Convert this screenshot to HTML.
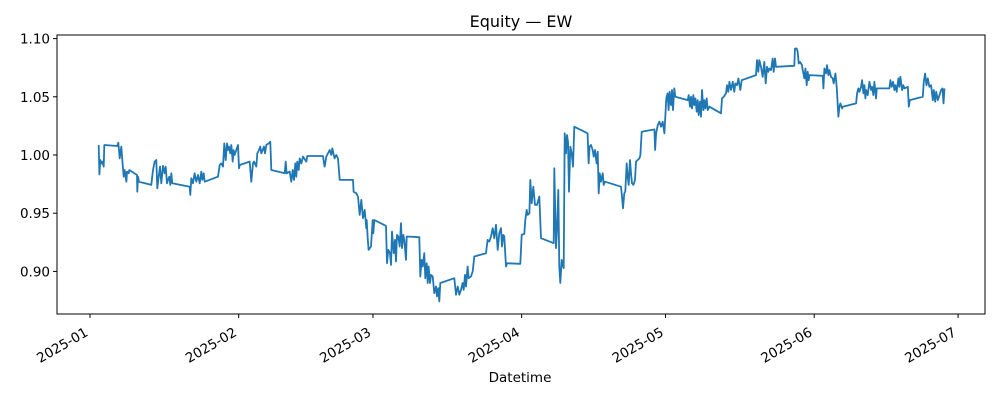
<!DOCTYPE html>
<html><head><meta charset="utf-8"><style>
body{margin:0;background:#fff;font-family:"DejaVu Sans","Liberation Sans",sans-serif;}
svg text{font-family:"DejaVu Sans","Liberation Sans",sans-serif;fill:#000;}
</style></head><body>
<svg id="chart" width="1000" height="400">
<text x="521" y="27" font-size="16" text-anchor="middle">Equity — EW</text>
<g id="plot"></g>
<rect x="57" y="35" width="928" height="279" fill="none" stroke="#000" stroke-width="1"/>
<text x="520" y="382" font-size="13.5" text-anchor="middle">Datetime</text>
</svg>
<script>
const days = [
1.81,1.95,2.15,2.36,2.57,2.85,2.99,5.70,5.91,6.05,6.19,6.53,6.74,7.02,7.23,7.58,7.71,8.06,8.20,9.80,9.87,10.01,10.22,12.79,13.14,13.48,13.83,14.04,14.32,14.60,14.87,15.22,15.57,15.78,16.05,16.26,16.54,16.75,16.96,17.17,
20.78,20.92,21.13,21.48,21.82,22.17,22.52,22.87,23.21,23.42,23.70,23.91,26.69,27.04,27.38,27.73,28.01,28.29,28.56,28.77,28.98,29.26,29.47,29.75,29.95,30.16,30.86,31.07,31.21,33.29,
33.64,33.99,34.19,34.68,34.89,35.24,35.51,35.72,36.0,36.28,36.49,36.77,37.25,37.6,37.81,40.59,40.8,41.0,41.63,41.98,42.26,42.53,42.81,43.02,43.23,43.51,43.72,44.06,44.41,45.11,
45.31,48.58,48.79,48.93,49.28,49.97,50.32,50.53,51.01,51.36,51.71,52.06,54.84,54.97,55.53,55.88,56.23,56.57,56.92,57.27,57.62,
57.69,57.9,58.1,58.59,58.94,59.08,59.28,61.72,61.93,62.2,62.55,62.76,62.97,63.32,63.6,63.8,64.01,64.29,64.57,64.85,65.05,65.33,65.54,65.89,66.03,
68.67,68.87,69.15,69.36,69.71,69.92,70.2,70.41,70.61,70.89,71.1,71.45,71.79,72.14,72.35,72.63,72.84,73.04,75.96,76.31,76.66,77.0,77.35,77.7,77.91,78.19,78.39,78.74,78.95,79.44,79.79,80.13,
82.57,82.91,83.26,83.61,83.96,84.3,84.65,85.0,85.35,85.7,85.9,86.18,86.39,86.74,86.95,89.73,90.01,90.56,90.77,91.05,91.26,91.61,91.81,92.09,92.44,92.79,93.21,93.69,94.04,
96.68,96.82,97.17,97.38,97.65,97.86,98.07,98.35,98.56,98.76,98.97,99.25,99.46,99.67,99.88,100.15,100.43,100.71,100.98,
103.76,103.97,104.18,104.46,104.81,105.02,105.29,105.64,105.85,106.06,106.27,106.55,106.9,107.11,107.38,
110.72,110.93,111.14,111.41,111.62,111.9,112.11,112.32,112.6,112.81,113.02,113.3,113.64,113.85,114.2,114.55,114.76,115.04,117.68,117.82,118.03,118.38,118.73,119.08,119.42,119.77,
120.17,120.44,120.65,120.86,121.14,121.35,121.56,121.83,122.04,124.62,124.83,125.1,125.31,125.52,125.8,126.01,126.22,126.5,126.7,126.91,127.19,127.4,127.61,127.89,128.1,128.31,128.58,128.79,129.14,
131.57,131.78,132.13,132.61,132.82,133.1,133.31,133.66,134.0,134.35,134.56,134.91,135.19,135.6,135.88,
138.87,139.07,139.35,139.56,139.91,140.26,140.6,140.88,141.16,141.44,141.65,142.0,142.34,142.55,142.83,143.04,
146.86,147.0,147.35,147.56,147.77,148.05,148.46,148.6,148.95,149.16,149.44,149.64,149.85,149.99,
152.77,152.91,153.12,153.47,153.68,153.96,154.17,154.51,154.86,155.07,155.42,155.69,156.04,156.25,156.46,156.81,156.95,
159.73,159.94,160.22,160.43,160.77,160.98,161.26,161.47,161.68,161.82,162.16,162.51,162.86,163.07,163.35,163.55,163.9,164.04,
166.68,166.89,167.17,167.45,167.72,167.93,168.21,168.56,168.77,168.98,169.33,169.6,169.81,170.51,170.72,170.93,
173.64,173.85,174.13,174.41,174.69,175.03,175.38,175.73,175.94,176.22,176.43,176.77,177.12,177.47,177.75,177.96,178.16];
const values = [
1.0086,0.9834,0.9957,0.9928,0.9943,0.990,1.0086,1.0077,1.0106,1.0043,0.9971,1.0072,0.9957,0.9814,0.9871,0.9771,0.9857,0.9843,0.9871,0.9828,0.9685,0.9814,0.9771,0.9743,0.9871,0.9943,0.9957,0.9714,0.9814,0.990,0.9757,0.9906,0.9843,0.990,0.9757,0.9786,0.9814,0.9743,0.9843,0.9757,
0.9728,0.9657,0.980,0.9757,0.9843,0.9771,0.9828,0.9757,0.9857,0.9786,0.9843,0.9771,0.9814,0.9914,0.9928,0.990,1.010,0.9957,1.010,1.0043,1.0072,1.0014,1.0086,0.9943,1.0043,1.000,1.0086,0.9886,0.9914,0.9943,
0.9771,0.9928,0.9943,0.990,1.0014,1.0043,1.0072,1.0014,1.0043,1.0072,1.0014,1.0086,1.010,1.0114,0.9871,0.9843,0.9943,0.9843,0.9857,0.9771,0.9871,0.9786,0.9928,0.9814,0.9943,0.9871,0.9971,0.9928,0.9986,0.9943,
0.9991,0.9991,0.9928,0.990,0.9986,1.0043,1.000,1.0057,0.9971,1.000,0.9971,0.9786,0.9786,0.9685,0.9671,0.9643,0.9485,0.9614,0.9457,0.9528,0.9371,
0.9442,0.9285,0.9185,0.9214,0.9442,0.9328,0.9442,0.9391,0.9071,0.9185,0.9156,0.9056,0.9342,0.9156,0.9271,0.9085,0.9314,0.930,0.9214,0.9414,0.920,0.9314,0.9271,0.9099,0.930,
0.9294,0.8956,0.9099,0.9042,0.9156,0.8942,0.907,0.890,0.9042,0.890,0.897,0.8956,0.8813,0.887,0.8785,0.8856,0.8742,0.890,0.8942,0.880,0.887,0.880,0.8842,0.890,0.8842,0.897,0.887,0.9042,0.8942,0.8956,0.900,0.9128,
0.9156,0.9271,0.9256,0.930,0.9371,0.9285,0.940,0.9185,0.9328,0.9371,0.9214,0.9314,0.930,0.9042,0.907,0.9065,0.9314,0.9322,0.9442,0.9528,0.9485,0.950,0.9786,0.9585,0.9728,0.9571,0.9571,0.9643,0.9285,
0.9242,0.9886,0.920,0.9356,0.970,0.9042,0.890,0.9099,0.9056,0.9028,1.0186,1.0014,1.0172,1.0114,0.9685,1.0072,1.0014,0.990,1.0243,
1.0186,0.9928,1.0072,1.0086,1.0043,0.9986,1.0043,0.9928,1.0029,0.9671,0.9843,0.9771,0.9843,0.9743,0.9771,
0.9728,0.9643,0.9542,0.9671,0.9686,0.9928,0.9814,0.9743,0.9957,0.9843,0.9757,0.9743,0.9786,0.9943,0.9957,0.9971,1.000,1.020,1.022,1.0043,1.0186,1.0257,1.0286,1.0243,1.0286,1.0186,
1.0486,1.0529,1.0386,1.0543,1.0429,1.0558,1.0386,1.0572,1.050,1.0472,1.0515,1.0415,1.050,1.040,1.0515,1.0429,1.0486,1.0372,1.0472,1.0343,1.0458,1.0329,1.0558,1.0386,1.0472,1.040,1.0486,1.0386,1.0415,
1.0358,1.0486,1.050,1.0529,1.060,1.0543,1.0629,1.0558,1.0629,1.0543,1.0615,1.060,1.0658,1.0558,1.0643,
1.0686,1.0815,1.0715,1.0815,1.0758,1.0672,1.080,1.0615,1.0758,1.0715,1.0743,1.0729,1.0829,1.0715,1.0829,1.0758,
1.0766,1.0915,1.0915,1.0887,1.0786,1.080,1.0772,1.0729,1.0658,1.0743,1.060,1.0715,1.0643,1.0686,
1.068,1.0572,1.0743,1.070,1.0772,1.0686,1.0729,1.0672,1.0658,1.0615,1.070,1.0586,1.0329,1.0415,1.0443,1.040,1.0415,
1.0443,1.0529,1.0572,1.0543,1.0586,1.0643,1.0529,1.060,1.0486,1.0558,1.0515,1.0629,1.0558,1.0586,1.0515,1.0629,1.0486,1.0572,
1.0572,1.0643,1.0586,1.0629,1.0558,1.060,1.0543,1.0658,1.0586,1.0672,1.0558,1.060,1.0572,1.0586,1.0415,1.0472,
1.050,1.0629,1.070,1.060,1.0658,1.0586,1.060,1.0472,1.0558,1.0458,1.0543,1.0472,1.0515,1.0558,1.0572,1.0443,1.0572];
const yTicks = [0.90,0.95,1.00,1.05,1.10];
const yTickLabels = ["0.90","0.95","1.00","1.05","1.10"];
const xTickDays = [0,31,59,90,120,151,181];
const xTickLabels = ["2025-01","2025-02","2025-03","2025-04","2025-05","2025-06","2025-07"];

const NS="http://www.w3.org/2000/svg";
const xS = d => 90 + d*4.796;
const yS = v => 155 - (v-1.0)*1164;
const g = document.getElementById('plot');
function mk(t,a){const e=document.createElementNS(NS,t);for(const k in a)e.setAttribute(k,a[k]);return e;}

yTicks.forEach((v,i)=>{
  const y=yS(v);
  const t=mk('line',{x1:53,x2:57,y1:y,y2:y,stroke:'#000'});
  
  
  g.appendChild(t);
  const l=mk('text',{x:50,y:y+5,'font-size':13.5,'text-anchor':'end'});
  l.textContent=yTickLabels[i];
  
  
  g.appendChild(l);
});
xTickDays.forEach((d,i)=>{
  const x=xS(d);
  const t=mk('line',{x1:x,x2:x,y1:314,y2:318,stroke:'#000'});
  
  
  g.appendChild(t);
  const ax=x-1, ay=335;
  const l=mk('text',{x:ax,y:ay,'font-size':13.5,'text-anchor':'end',transform:`rotate(-30 ${ax} ${ay})`});
  l.textContent=xTickLabels[i];
  
  
  g.appendChild(l);
});
const n=Math.min(days.length,values.length);
const pts=[];
for(let i=0;i<n;i++) pts.push(xS(days[i]).toFixed(1)+','+yS(values[i]).toFixed(1));
const line=mk('polyline',{points:pts.join(' '),fill:'none',stroke:'#1f77b4','stroke-width':1.8,'stroke-linejoin':'round'});


g.appendChild(line);
</script>
</body></html>
